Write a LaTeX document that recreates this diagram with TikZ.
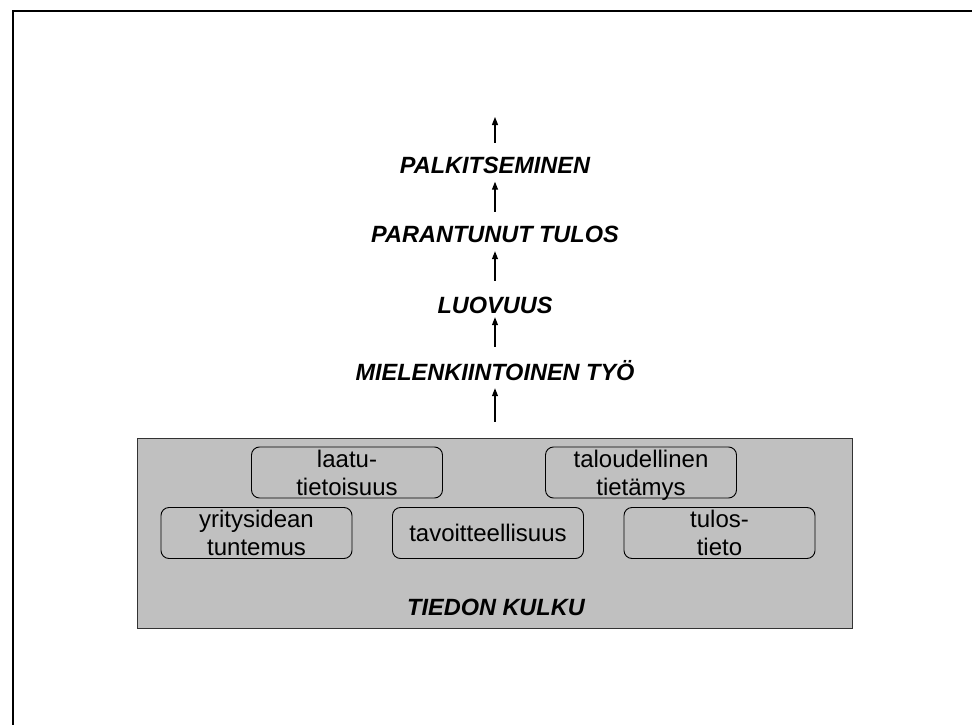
\documentclass[tikz,border=0pt]{standalone}
\usepackage{fontspec}
\setmainfont{Liberation Sans}
\usetikzlibrary{arrows.meta}
\definecolor{graybox}{HTML}{C0C0C0}
\begin{document}
\begin{tikzpicture}[x=1pt,y=-1pt,
 lbl/.style={font=\fontsize{23.5}{28}\selectfont\bfseries\itshape, inner sep=0pt, text height=17pt, text depth=0pt, anchor=base},
 item/.style={draw=black, line width=0.9pt, rounded corners=8pt, minimum width=191pt, minimum height=51pt, inner sep=0pt, align=center, text depth=0pt, font=\fontsize{24}{28}\selectfont},
 arr/.style={line width=1.2pt, -{Triangle[length=8pt,width=6pt]}},
]
\useasboundingbox (0,0) rectangle (972,725);
\draw[line width=2pt] (13,725) -- (13,11) -- (972,11);

\node[draw=black!80, fill=graybox, line width=1pt, minimum width=715pt, minimum height=190pt, inner sep=0pt] (kulku) at (495,533) {};

\node[item] (laatu) at (347,472.5) {laatu-\\tietoisuus};
\node[item] (talous) at (641,472.5) {taloudellinen\\tietämys};
\node[item] (yritys) at (256.5,533) {yritysidean\\tuntemus};
\node[item] (tavoite) at (488,533) {tavoitteellisuus};
\node[item] (tulos) at (719.5,533) {tulos-\\tieto};
\node[lbl] (kulkulbl) at (496,615) {TIEDON KULKU};

\node[lbl] (palk) at (495,173) {PALKITSEMINEN};
\node[lbl] (paran) at (495,242) {PARANTUNUT TULOS};
\node[lbl] (luov) at (495,313) {LUOVUUS};
\node[lbl] (miel) at (495,380) {MIELENKIINTOINEN TYÖ};

\coordinate (top) at (495,117);
\draw[arr, shorten <=13pt] (palk.north) -- (top);
\draw[arr, shorten <=13pt, shorten >=8.5pt] (paran.north) -- (palk.south);
\draw[arr, shorten <=15pt, shorten >=9pt] (luov.north) -- (paran.south);
\draw[arr, shorten <=16pt, shorten >=4pt] (miel.north) -- (luov.south);
\draw[arr, shorten <=16pt, shorten >=8pt] (kulku.north) -- (miel.south);
\end{tikzpicture}
\end{document}
